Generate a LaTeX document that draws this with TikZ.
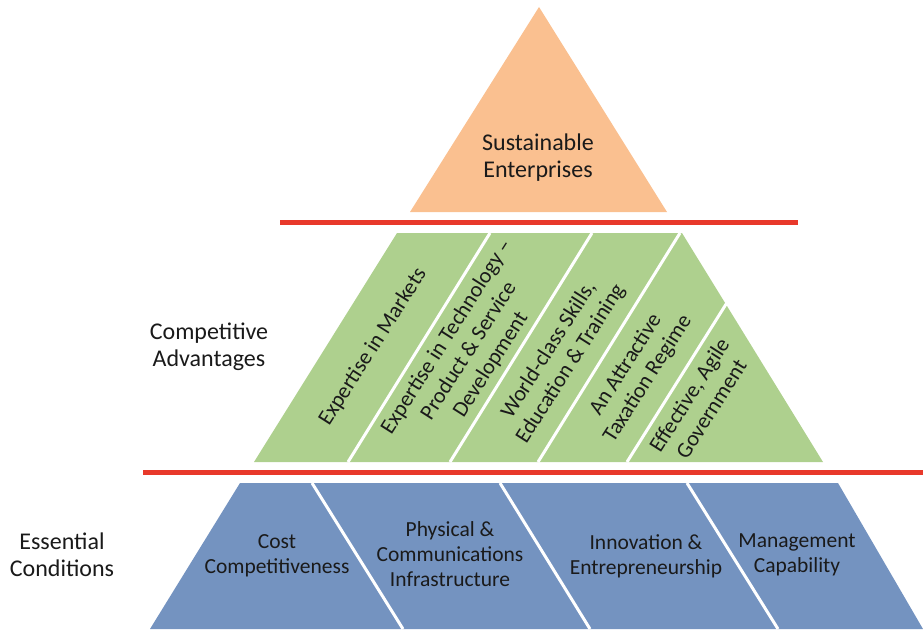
\documentclass[tikz,border=0pt]{standalone}
\usepackage{fontspec}
\setmainfont{Carlito}
\usepackage{tikz}
\definecolor{topfill}{HTML}{FAC090}
\definecolor{advfill}{HTML}{AED08E}
\definecolor{condfill}{HTML}{7493C0}
\definecolor{barred}{HTML}{E8392B}
\definecolor{textdark}{HTML}{1A1A1A}

\begin{document}
\begin{tikzpicture}[
    x=1pt, y=-1pt,
    layertext/.style={align=center, text=textdark, inner sep=0pt},
    toptext/.style={layertext, font=\fontsize{24}{27}\selectfont},
    advtext/.style={layertext, rotate=57.5, font=\fontsize{22}{26}\selectfont},
    condtext/.style={layertext, font=\fontsize{21.5}{25}\selectfont},
    sidetext/.style={layertext, font=\fontsize{24}{27}\selectfont},
    redbar/.style={barred, line width=5pt},
    divider/.style={white, line width=3pt}
]
\useasboundingbox (0,0) rectangle (923,631);

% Pyramid layers
\fill[topfill] (539,7) -- (667,212) -- (410,212) -- cycle;
\fill[advfill] (397,233) -- (682,233) -- (823,462) -- (254,462) -- cycle;
\fill[condfill] (240,483) -- (838,483) -- (923,629) -- (150,629) -- cycle;

% Dividers - Competitive Advantages
\draw[divider] (490,233) -- (348,462);
\draw[divider] (592,233) -- (450,462);
\draw[divider] (680,233) -- (538,462);
\draw[divider] (728,301) -- (627,462);

% Dividers - Essential Conditions
\draw[divider] (312,483) -- (403,629);
\draw[divider] (500,483) -- (590,629);
\draw[divider] (687,483) -- (778,629);

% Red bars
\draw[redbar] (280,222) -- (798,222);
\draw[redbar] (143,472.5) -- (923,472.5);

% Top
\node[toptext] (sustain) at (538,158) {Sustainable\\Enterprises};

% Competitive Advantages
\node[sidetext] (advlabel) at (209,347) {Competitive\\Advantages};
\node[advtext] (markets) at (373,347) {Expertise in Markets};
\node[advtext] (tech) at (469,351) {Expertise in Technology –\\Product \& Service\\Development};
\node[advtext] (skills) at (560,357) {World-class Skills,\\Education \& Training};
\node[advtext] (tax) at (637,372) {An Attractive\\Taxation Regime};
\node[advtext] (gov) at (700,402) {Effective, Agile\\Government};

% Essential Conditions
\node[sidetext] (condlabel) at (62,555) {Essential\\Conditions};
\node[condtext] (cost) at (277,556) {Cost\\Competitiveness};
\node[condtext] (infra) at (450,554) {Physical \&\\Communications\\Infrastructure};
\node[condtext] (innov) at (646,556) {Innovation \&\\Entrepreneurship};
\node[condtext] (mgmt) at (797,555) {Management\\Capability};

\end{tikzpicture}
\end{document}
